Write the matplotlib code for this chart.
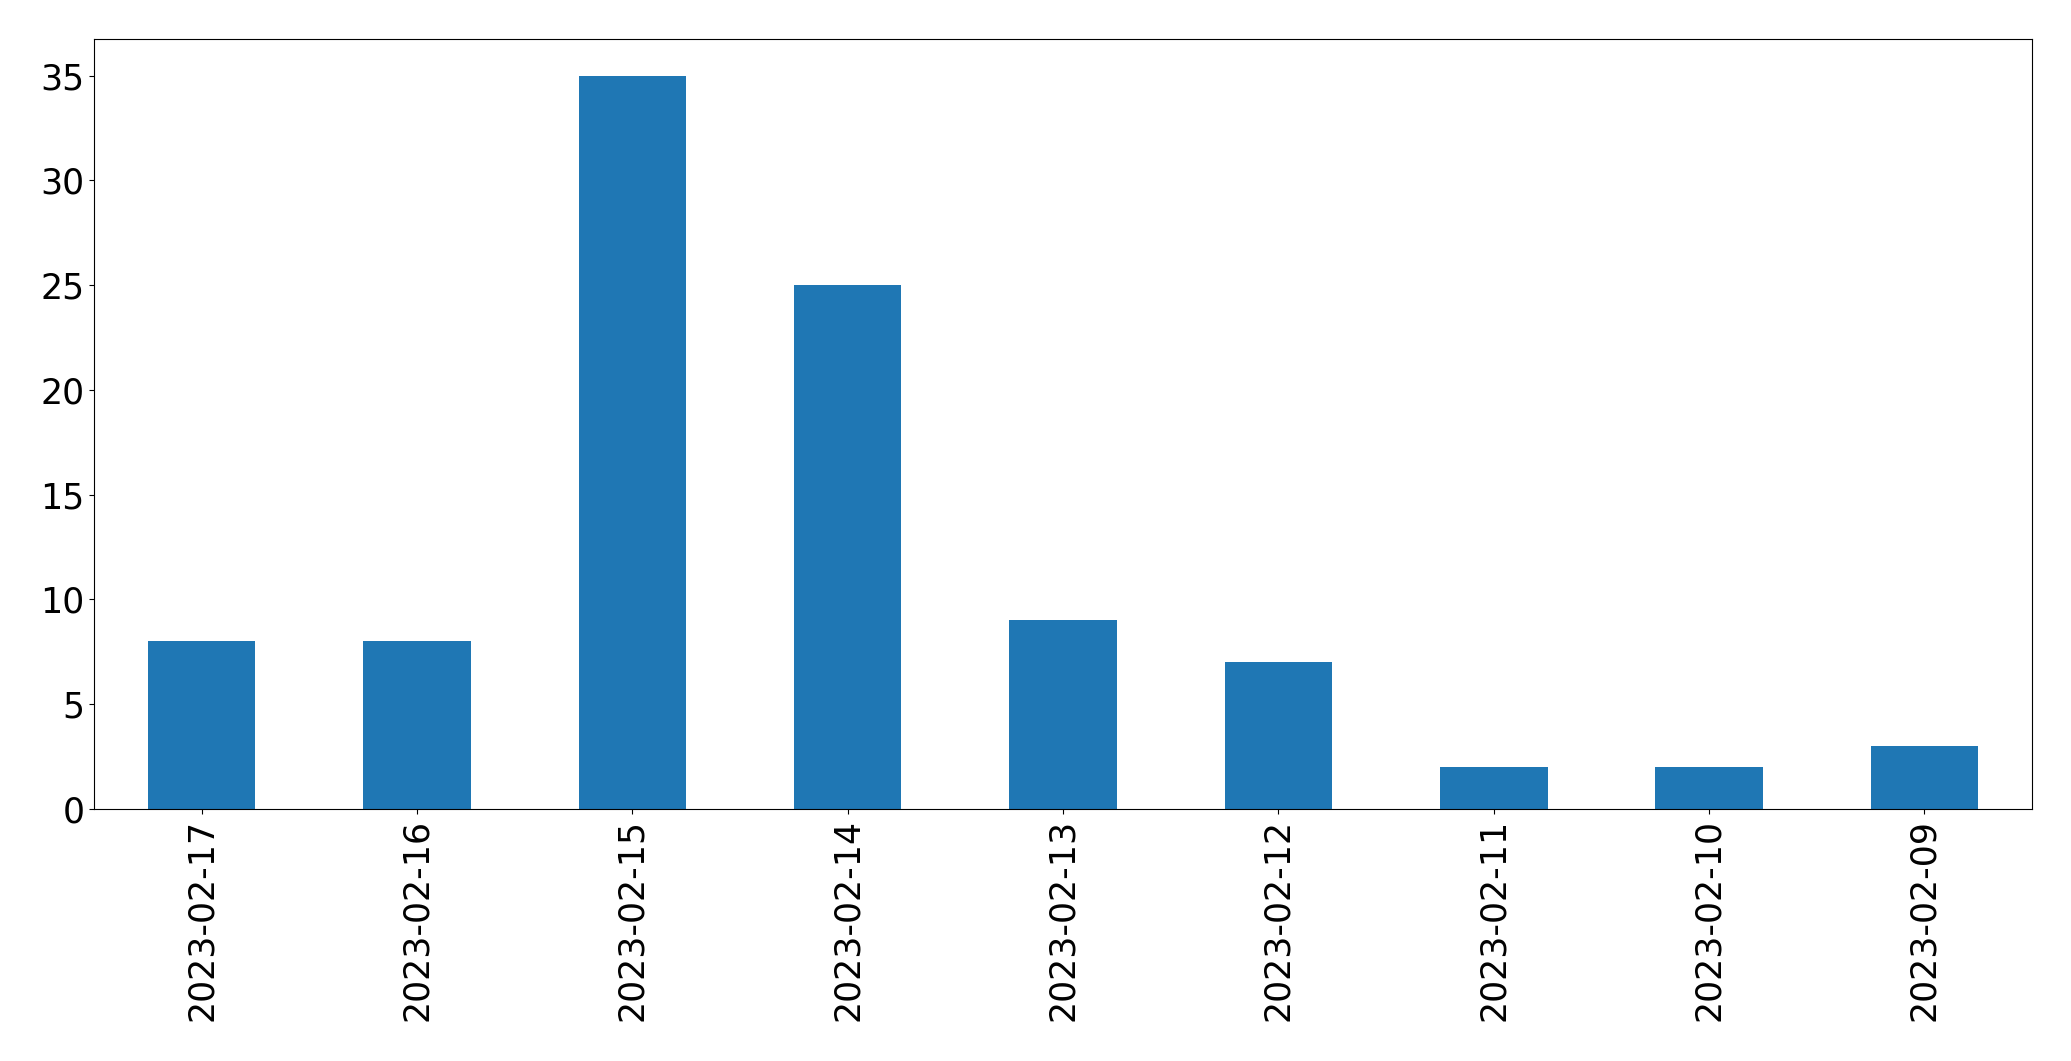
import pandas as pd
import matplotlib
matplotlib.use('Agg')
import matplotlib.pyplot as plt

dates = ['2023-02-17', '2023-02-16', '2023-02-15', '2023-02-14', '2023-02-13',
         '2023-02-12', '2023-02-11', '2023-02-10', '2023-02-09']
counts = [8, 8, 35, 25, 9, 7, 2, 2, 3]

fs = 25  # font size

s = pd.Series(counts, index=dates)

fig, ax = plt.subplots(figsize=(20.71, 10.61), dpi=100)
s.plot(kind='bar', ax=ax, color='#1f77b4')
ax.tick_params(axis='both', labelsize=fs)
plt.subplots_adjust(left=94 / 2071, right=2032 / 2071, top=1 - 39 / 1061, bottom=1 - 809 / 1061)
plt.savefig('out.png', dpi=100)
